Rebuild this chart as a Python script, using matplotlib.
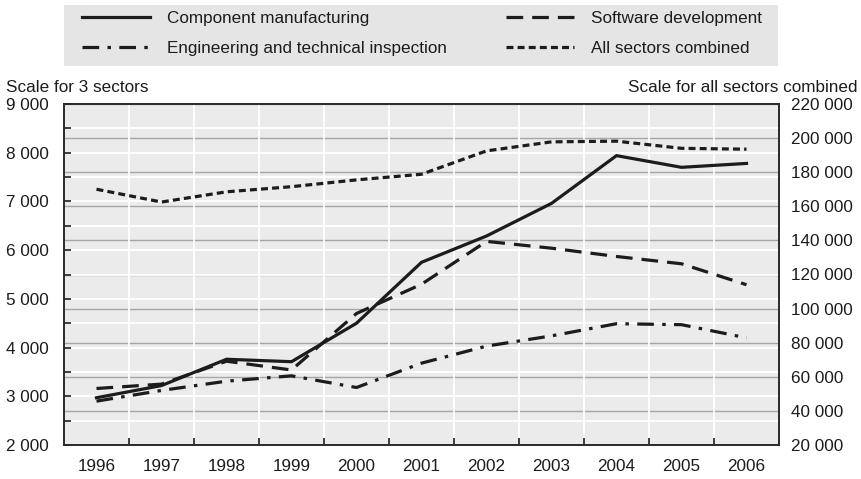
import numpy as np
import matplotlib
matplotlib.use("Agg")
import matplotlib.pyplot as plt
from matplotlib.patches import Rectangle
from matplotlib.ticker import FuncFormatter, MultipleLocator, FixedLocator

plt.rcParams['font.family'] = ['Liberation Sans', 'DejaVu Sans']
plt.rcParams['font.size'] = 12.3
plt.rcParams['lines.scale_dashes'] = False

years = ['1996', '1997', '1998', '1999', '2000', '2001', '2002', '2003', '2004', '2005', '2006']
component = [2970, 3220, 3760, 3710, 4500, 5750, 6290, 6960, 7940, 7700, 7780]
software = [3160, 3250, 3720, 3540, 4700, 5300, 6180, 6040, 5870, 5720, 5290]
engineering = [2900, 3120, 3310, 3420, 3180, 3680, 4030, 4240, 4490, 4470, 4200]
all_sectors = [170000, 162500, 168500, 171500, 175500, 178800, 192500, 197800, 198200, 194000, 193500]

labels = ['Component manufacturing', 'Software development',
          'Engineering and technical inspection', 'All sectors combined']

W, H = 861, 479
fig = plt.figure(figsize=(W / 100, H / 100), dpi=100)
fig.patch.set_facecolor('white')

ink = '#1c1c1c'
bg = '#ebebeb'

ax1 = fig.add_axes([64 / W, 1 - 445 / H, (779 - 64) / W, (445 - 104) / H])
ax2 = ax1.twinx()
ax1.set_zorder(2)
ax2.set_zorder(1)
ax1.patch.set_visible(False)
ax2.patch.set_visible(True)
ax2.patch.set_facecolor(bg)

x = np.arange(len(years))

# right axis: scale for all sectors
ax2.set_ylim(20000, 220000)
ax2.yaxis.set_major_locator(MultipleLocator(20000))
ax2.yaxis.set_major_formatter(FuncFormatter(lambda v, p: f"{int(v):,}".replace(',', ' ')))
ax2.tick_params(axis='y', length=0, pad=8.6, labelcolor=ink)
ax2.grid(axis='y', color='#a6a6a6', linewidth=1.0)
ax2.set_axisbelow(True)
for s in ax2.spines.values():
    s.set_visible(False)

# left axis
ax1.set_xlim(-0.5, len(years) - 0.5)
ax1.set_ylim(2000, 9000)
ax1.set_xticks(x)
ax1.set_xticklabels(years)
ax1.xaxis.set_minor_locator(FixedLocator(np.arange(0.5, len(years) - 1, 1)))
ax1.yaxis.set_major_locator(MultipleLocator(1000))
ax1.yaxis.set_minor_locator(MultipleLocator(500))
ax1.yaxis.set_major_formatter(FuncFormatter(lambda v, p: f"{int(v):,}".replace(',', ' ')))
ax1.tick_params(axis='x', which='major', length=0, pad=10, labelcolor=ink)
ax1.tick_params(axis='x', which='minor', direction='in', length=5, width=1.2, color=ink)
ax1.tick_params(axis='y', which='both', direction='in', length=5, width=1.2, color=ink,
                pad=10.8, labelcolor=ink)
ax1.tick_params(axis='y', which='minor', labelleft=False)
ax1.grid(axis='y', which='both', color='white', linewidth=1.3)
ax1.grid(axis='x', which='minor', color='white', linewidth=1.3)
ax1.grid(axis='x', which='major', visible=False)
for s in ax1.spines.values():
    s.set_color('#2a2a2a')
    s.set_linewidth(1.4)

lw = 2.3
l1, = ax1.plot(x, component, color=ink, lw=lw, linestyle='-', solid_joinstyle='miter', zorder=3)
l2, = ax1.plot(x, software, color=ink, lw=lw, linestyle=(0, (12, 6.5)), zorder=3)
l3, = ax1.plot(x, engineering, color=ink, lw=lw, linestyle=(0, (12, 6, 2.5, 6)), zorder=3)
l4, = ax1.plot(x, all_sectors, color=ink, lw=lw, linestyle=(0, (5, 3)), zorder=3,
               transform=ax2.transData)

# legend box
fig.patches.append(Rectangle((64 / W, 1 - 66 / H), (778 - 64) / W, 61 / H,
                             transform=fig.transFigure, facecolor='#e5e5e5',
                             edgecolor='none', zorder=0))
fig.legend([l1, l3, l2, l4], [labels[0], labels[2], labels[1], labels[3]],
           ncol=2, loc='upper left', bbox_to_anchor=(82 / W, 1 - 11 / H),
           frameon=False, borderpad=0, borderaxespad=0,
           handlelength=3.98, handletextpad=1.0, columnspacing=3.45,
           labelspacing=0.9, labelcolor=ink)

fig.text(6 / W, 1 - 92 / H, 'Scale for 3 sectors', ha='left', va='baseline', color=ink)
fig.text(857 / W, 1 - 92 / H, 'Scale for all sectors combined', ha='right', va='baseline', color=ink)

fig.savefig('out.png', dpi=100)
